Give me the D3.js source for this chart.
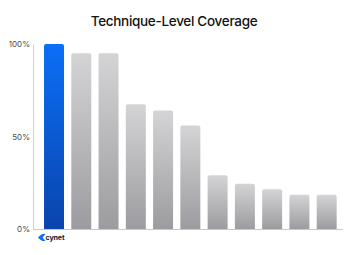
<!DOCTYPE html>
<html>
<head>
<meta charset="utf-8">
<script src="https://cdn.jsdelivr.net/npm/d3@7"></script>
<style>
  body { margin: 0; background: #ffffff; }
  svg { display: block; }
</style>
</head>
<body>
<div id="chart"></div>
<script>
    // bar values (% of techniques covered), first bar is cynet
    const vendors = ['cynet', 'v2', 'v3', 'v4', 'v5', 'v6', 'v7', 'v8', 'v9', 'v10', 'v11'];
    const coverage = [100, 95, 95, 67.5, 64, 56, 29, 24.5, 21.5, 18.5, 18.5];
    const y_ticks = [0, 50, 100];

    const width = 350,
        height = 255;

    const svg = d3.select('#chart').append('svg')
        .attr('width', width)
        .attr('height', height)
        .attr('font-family', 'Inter, "Noto Sans", sans-serif');

    const defs = svg.append('defs');

    let add_gradient = function(id, top, bottom) {
        let g = defs.append('linearGradient')
            .attr('id', id)
            .attr('x1', 0).attr('y1', 0)
            .attr('x2', 0).attr('y2', 1);
        g.append('stop').attr('offset', '0%').attr('stop-color', top);
        g.append('stop').attr('offset', '100%').attr('stop-color', bottom);
    };
    add_gradient('grad-blue', '#0a6ff6', '#0a44ad');
    add_gradient('grad-gray', '#d4d4d6', '#9c9ca0');

    const x = d3.scaleBand()
        .domain(vendors)
        .range([40.4, 340.3])
        .paddingInner(0.267)
        .paddingOuter(0.133);

    const y = d3.scaleLinear()
        .domain([0, 100])
        .range([229, 44]);

    // title
    svg.append('text')
        .attr('x', 174)
        .attr('y', 26)
        .attr('text-anchor', 'middle')
        .attr('font-size', 13.5)
        .attr('font-weight', 500)
        .attr('fill', '#111111')
        .attr('letter-spacing', -0.3)
        .text('Technique-Level Coverage');

    // y axis
    const y_axis = svg.append('g')
        .attr('transform', 'translate(33,0)')
        .call(d3.axisLeft(y)
            .tickValues(y_ticks)
            .tickSize(0)
            .tickPadding(3)
            .tickFormat((d) => d + '%'));
    y_axis.select('.domain')
        .attr('stroke', '#d2d2d2');
    y_axis.selectAll('text')
        .attr('font-size', 8)
        .attr('fill', '#4a4a4a')
        .attr('font-family', 'Inter, "Noto Sans", sans-serif');

    // bars with rounded tops
    let bar_path = function(d, i) {
        const x0 = x(vendors[i]),
            w = x.bandwidth(),
            y0 = y(d),
            y1 = y(0),
            r = 2;
        return 'M' + x0 + ',' + y1 +
            'V' + (y0 + r) +
            'Q' + x0 + ',' + y0 + ' ' + (x0 + r) + ',' + y0 +
            'H' + (x0 + w - r) +
            'Q' + (x0 + w) + ',' + y0 + ' ' + (x0 + w) + ',' + (y0 + r) +
            'V' + y1 + 'Z';
    };

    svg.append('g').selectAll('path')
        .data(coverage)
        .enter().append('path')
        .attr('d', bar_path)
        .attr('fill', (d, i) => i === 0 ? 'url(#grad-blue)' : 'url(#grad-gray)');

    // baseline
    svg.append('line')
        .attr('x1', 33)
        .attr('x2', 343)
        .attr('y1', y(0) + 0.5)
        .attr('y2', y(0) + 0.5)
        .attr('stroke', '#c8c8c8');

    // cynet logo under the first bar
    const logo = svg.append('g')
        .attr('transform', 'translate(' + (x('cynet') - 6) + ',' + 237.5 + ')');
    logo.append('path')
        .attr('d', 'M0.5,0 Q0,-0.4 0.5,-0.8 L3.5,-3 Q4,-3.4 4.8,-3.4 L7.5,-3.4 L4.5,0 L7.5,3.4 L4.8,3.4 Q4,3.4 3.5,3 L0.5,0.8 Q0,0.4 0.5,0 Z')
        .attr('fill', '#0a6ff6');
    logo.append('text')
        .attr('x', 7.5)
        .attr('y', 2.4)
        .attr('font-size', 7.2)
        .attr('font-weight', 700)
        .attr('fill', '#1a1a2a')
        .attr('letter-spacing', -0.2)
        .text('cynet');
</script>
</body>
</html>
